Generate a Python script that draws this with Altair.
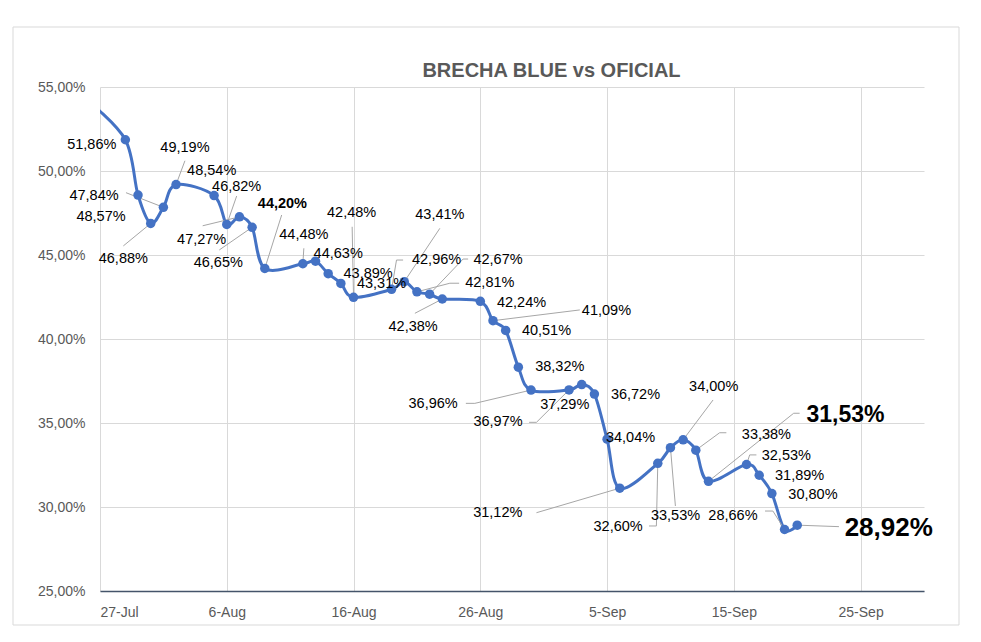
import altair as alt
import pandas as pd

# ---------------- data ----------------
dates = [
    "2024-07-26", "2024-07-29", "2024-07-30", "2024-07-31", "2024-08-01", "2024-08-02",
    "2024-08-05", "2024-08-06", "2024-08-07", "2024-08-08", "2024-08-09",
    "2024-08-12", "2024-08-13", "2024-08-14", "2024-08-15", "2024-08-16",
    "2024-08-19", "2024-08-20", "2024-08-21", "2024-08-22", "2024-08-23",
    "2024-08-26", "2024-08-27", "2024-08-28", "2024-08-29", "2024-08-30",
    "2024-09-02", "2024-09-03", "2024-09-04", "2024-09-05", "2024-09-06",
    "2024-09-09", "2024-09-10", "2024-09-11", "2024-09-12", "2024-09-13",
    "2024-09-16", "2024-09-17", "2024-09-18", "2024-09-19", "2024-09-20",
]
values = [
    54.20, 51.86, 48.57, 46.88, 47.84, 49.19,
    48.54, 46.82, 47.27, 46.65, 44.20,
    44.48, 44.63, 43.89, 43.31, 42.48,
    42.96, 43.41, 42.81, 42.67, 42.38,
    42.24, 41.09, 40.51, 38.32, 36.96,
    36.97, 37.29, 36.72, 34.04, 31.12,
    32.60, 33.53, 34.00, 33.38, 31.53,
    32.53, 31.89, 30.80, 28.66, 28.92,
]
# the first point (26-Jul) lies left of the axis start and carries no label
labeled_from = 1

x_tick_dates = ["2024-07-27", "2024-08-06", "2024-08-16", "2024-08-26",
                "2024-09-05", "2024-09-15", "2024-09-25"]
x_tick_labels = ["27-Jul", "6-Aug", "16-Aug", "26-Aug", "5-Sep", "15-Sep", "25-Sep"]
y_ticks = [25, 30, 35, 40, 45, 50, 55]

# ---------------- annotation layout (data units: days after 27-Jul, percent) ----------------
origin = pd.Timestamp("2024-07-27")
label_pos = [
    (-0.65, 51.55), (0.08, 47.24), (1.84, 44.74), (-0.47, 48.51), (6.70, 51.35),
    (8.81, 50.02), (10.78, 49.03), (8.02, 45.89), (9.33, 44.51), (14.39, 48.04),
    (16.08, 46.19), (18.79, 45.06), (21.15, 43.85), (22.21, 43.27), (19.85, 47.48),
    (26.55, 44.70), (26.81, 47.38), (30.75, 43.32), (31.40, 44.70), (24.70, 40.73),
    (33.25, 42.16), (39.95, 41.68), (35.22, 40.49), (36.27, 38.32), (26.28, 36.13),
    (31.40, 35.04), (36.66, 36.07), (42.24, 36.67), (41.85, 34.09), (31.38, 29.63),
    (40.87, 28.83), (45.40, 29.46), (48.41, 37.16), (52.57, 34.29), (58.80, 35.48),
    (54.14, 33.05), (55.19, 31.85), (56.24, 30.71), (49.93, 29.48), (62.22, 28.73),
]
label_style = ["n"] * 40
label_style[9] = "b"     # 44,20%
label_style[34] = "B1"   # 31,53%
label_style[39] = "B2"   # 28,92%

# leader-line waypoints (from the label toward the marker), keyed by label index
leaders = {
    2: [(1.84, 45.54)],
    3: [(2.05, 48.71)],
    4: [(6.70, 50.61)],
    6: [(10.78, 48.51)],
    7: [(8.10, 46.74)],
    8: [(9.41, 45.30)],
    9: [(14.33, 47.38)],
    10: [(16.08, 45.40)],
    14: [(19.89, 46.68)],
    15: [(23.91, 44.70), (23.39, 44.70)],
    16: [(26.81, 46.59)],
    17: [(28.33, 43.32), (27.60, 43.32)],
    18: [(29.04, 44.76), (28.64, 44.76)],
    19: [(24.84, 41.53)],
    21: [(37.85, 41.73)],
    24: [(28.86, 36.17), (29.57, 36.17)],
    25: [(33.85, 35.04), (34.43, 35.04)],
    29: [(34.43, 29.66)],
    30: [(43.31, 28.87), (43.89, 28.87)],
    31: [(45.39, 30.06)],
    32: [(48.36, 36.37)],
    33: [(49.41, 34.42), (48.88, 34.42)],
    34: [(55.19, 35.58), (54.72, 35.58)],
    35: [(51.78, 33.10), (51.25, 33.10)],
    38: [(52.46, 29.76), (53.08, 29.76)],
    39: [(58.29, 28.83)],
}


def iso(ts):
    return pd.Timestamp(ts).strftime("%Y-%m-%dT%H:%M:%SZ")


def day_to_iso(d):
    return iso(origin + pd.to_timedelta(d, unit="D"))


series = pd.DataFrame({"date": [iso(d) for d in dates], "value": values})

lab_rows = []
for i, (d, v) in enumerate(label_pos):
    val = values[labeled_from + i]
    txt = f"{val:.2f}".replace(".", ",") + "%"
    lab_rows.append({"date": day_to_iso(d), "value": v, "text": txt, "style": label_style[i]})
labels = pd.DataFrame(lab_rows)

lead_rows = []
for i, pts in leaders.items():
    k = 0
    for (d, v) in pts:
        lead_rows.append({"id": i, "ord": k, "date": day_to_iso(d), "value": v})
        k += 1
    lead_rows.append({"id": i, "ord": k, "date": iso(dates[labeled_from + i]),
                      "value": values[labeled_from + i]})
leader_df = pd.DataFrame(lead_rows)

# ---------------- scales ----------------
FONT = "Liberation Sans"
BLUE = "#4472C4"

x_scale = alt.Scale(type="utc", domain=[alt.DateTime(year=2024, month=7, date=27, utc=True),
                                        alt.DateTime(year=2024, month=9, date=30, utc=True)])
y_scale = alt.Scale(domain=[25, 55], nice=False, zero=False)

tick_vals = [alt.DateTime(year=int(s[:4]), month=int(s[5:7]), date=int(s[8:10]), utc=True)
             for s in x_tick_dates]
label_map = "{" + ",".join(
    f"'{iso(d)[:10]}':'{l}'" for d, l in zip(x_tick_dates, x_tick_labels)) + "}"

x_axis = alt.Axis(
    values=tick_vals,
    labelExpr=f"{label_map}[utcFormat(datum.value, '%Y-%m-%d')]",
    title=None, grid=True, gridColor="#D9D9D9", gridWidth=1,
    domain=True, domainColor="#44546A", domainWidth=1.5,
    ticks=False, labelFont=FONT, labelFontSize=14, labelColor="#595959",
    labelPadding=14,
)
y_axis = alt.Axis(
    values=y_ticks,
    labelExpr="replace(format(datum.value, '.2f'), '.', ',') + '%'",
    title=None, grid=True, gridColor="#D9D9D9", gridWidth=1,
    domain=False, ticks=False, labelFont=FONT, labelFontSize=14,
    labelColor="#595959", labelPadding=15,
)

X = alt.X("date:T", scale=x_scale, axis=x_axis)
Y = alt.Y("value:Q", scale=y_scale, axis=y_axis)
Xn = alt.X("date:T", scale=x_scale)
Yn = alt.Y("value:Q", scale=y_scale)

line = alt.Chart(series).mark_line(
    color=BLUE, strokeWidth=3, interpolate="cardinal", clip=True
).encode(x=X, y=Y)

pts = alt.Chart(series).mark_circle(
    color=BLUE, size=90, opacity=1, clip=True
).encode(x=Xn, y=Yn)

lead = alt.Chart(leader_df).mark_line(color="#A6A6A6", strokeWidth=1).encode(
    x=Xn, y=Yn, detail="id:N", order="ord:Q")

def text_layer(style, size, weight):
    return alt.Chart(labels).transform_filter(alt.datum.style == style).mark_text(
        font=FONT, fontSize=size, fontWeight=weight, color="#000000",
        align="center", baseline="middle"
    ).encode(x=Xn, y=Yn, text="text:N")

t_norm = text_layer("n", 14.5, "normal")
t_bold = text_layer("b", 14.5, "bold")
t_big1 = text_layer("B1", 23, "bold")
t_big2 = text_layer("B2", 26, "bold")

one = alt.Data(values=[{}])
frame = alt.Chart(one).mark_rect(filled=False, stroke="#D9D9D9", strokeWidth=1).encode(
    x=alt.value(-87), x2=alt.value(859), y=alt.value(-60), y2=alt.value(538))

title = alt.Chart(one).mark_text(
    font=FONT, fontSize=20, fontWeight="bold", color="#595959",
    align="center", baseline="middle"
).encode(x=alt.value(451.5), y=alt.value(-16), text=alt.value("BRECHA BLUE vs OFICIAL"))

chart = alt.layer(
    frame, line, lead, pts, t_norm, t_bold, t_big1, t_big2, title
).properties(
    width=824, height=504,
    autosize=alt.AutoSizeParams(type="none"),
    padding={"left": 100, "top": 87, "right": 57, "bottom": 51},
    background="white",
).configure_view(stroke=None)

chart.save("out.html", embed_options={"renderer": "svg", "actions": False})
